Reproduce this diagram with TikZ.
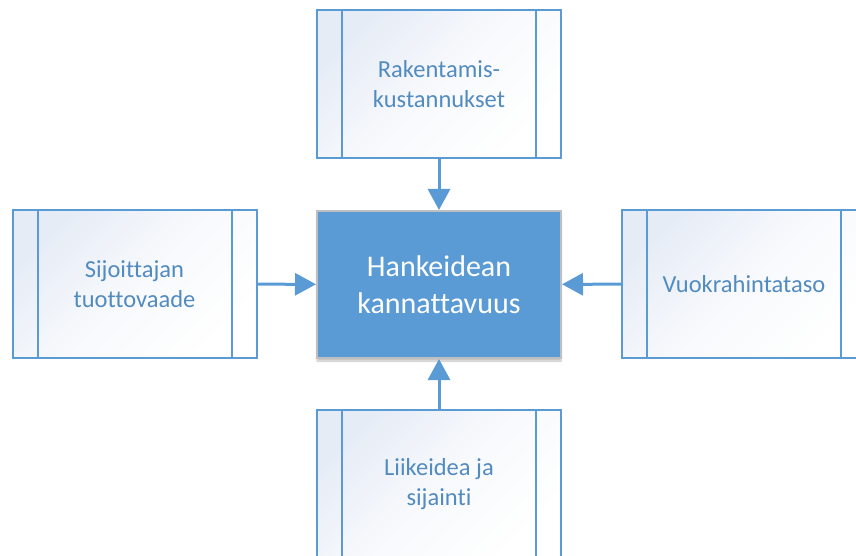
\documentclass[tikz,border=0pt]{standalone}
\usepackage{fontspec}
\setmainfont{Carlito}[Ligatures=NoCommon]
\usetikzlibrary{arrows.meta,shadows.blur}
\definecolor{sininen}{HTML}{5B9BD5}
\definecolor{sävy}{HTML}{E6ECF6}
\definecolor{harmaa}{HTML}{BFBFBF}
\tikzset{
  tekija/.style={draw=sininen, line width=2pt, top color=sävy, bottom color=white, middle color=white!70!sävy,
    shading angle=45, minimum width=244pt, minimum height=148pt, align=center, text=sininen!90!black,
    font=\fontsize{24.5}{30}\selectfont},
  tulos/.style={draw=harmaa, line width=2pt, fill=sininen, minimum width=244pt, minimum height=147pt,
    align=center, text=white, font=\fontsize{30}{37}\selectfont,
    blur shadow={shadow xshift=0pt, shadow yshift=-3pt, shadow blur steps=6, shadow opacity=25}},
  nuoli/.style={-{Triangle[length=21pt,width=22pt]}, line width=3pt, draw=sininen}
}
\begin{document}
\begin{tikzpicture}[x=1pt,y=-1pt]
\useasboundingbox (0,0) rectangle (856,556);
% keskimmäinen laatikko
\node[tulos] (keski) at (439,284.5) {Hankeidean\\kannattavuus};
% tekijät
\node[tekija] (yla) at (439,84) {Rakentamis-\\kustannukset};
\node[tekija] (vasen) at (134.5,284) {Sijoittajan\\tuottovaade};
\node[tekija] (oikea) at (744,284) {Vuokrahintataso};
\node[tekija] (ala) at (439,484) {Liikeidea ja\\sijainti};
% sisäviivat
\foreach \n in {yla,vasen,oikea,ala}
  \draw[sininen, line width=2pt] ([xshift=26pt]\n.north west) -- ([xshift=26pt]\n.south west)
    ([xshift=-26pt]\n.north east) -- ([xshift=-26pt]\n.south east);
% nuolet
\draw[nuoli] (yla) -- (keski);
\draw[nuoli] (vasen) -- (keski);
\draw[nuoli] (oikea) -- (keski);
\draw[nuoli] (ala) -- (keski);
\end{tikzpicture}
\end{document}
